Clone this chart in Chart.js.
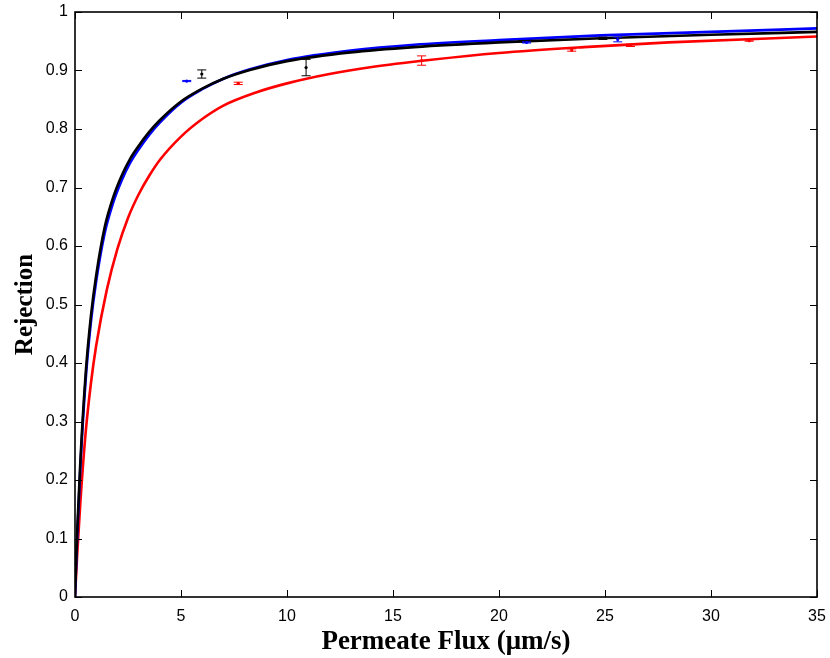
<!DOCTYPE html>
<html>
<head>
<meta charset="utf-8">
<script src="https://cdn.jsdelivr.net/npm/chart.js@4/dist/chart.umd.min.js"></script>
<style>
  html, body { margin: 0; padding: 0; background: #fff; }
  #wrap { width: 830px; height: 658px; }
</style>
</head>
<body>
<div id="wrap"><canvas id="c" width="830" height="658"></canvas></div>
<script>
// --- fitted curves ---
const blueFlux = [0, 0.1, 0.25, 0.5, 0.75, 1, 1.4, 1.8, 2.2, 2.6, 3, 3.5, 4, 5, 6, 7, 8.25, 10, 13, 16, 20, 24.8, 30, 35];
const blueRej  = [0, 0.10, 0.22, 0.37, 0.47, 0.54, 0.622, 0.674, 0.712, 0.742, 0.765, 0.79, 0.811, 0.845, 0.868, 0.886, 0.902, 0.918, 0.934, 0.944, 0.952, 0.96, 0.966, 0.972];

const blackFlux = [0, 0.1, 0.25, 0.5, 0.75, 1, 1.4, 1.8, 2.2, 2.6, 3, 3.5, 4, 5, 6, 7, 8.25, 10, 13, 16, 20, 24.8, 30, 35];
const blackRej  = [0, 0.11, 0.23, 0.38, 0.48, 0.55, 0.632, 0.683, 0.72, 0.749, 0.771, 0.795, 0.815, 0.847, 0.869, 0.886, 0.901, 0.916, 0.931, 0.94, 0.948, 0.955, 0.961, 0.966];

const redFlux = [0, 0.1, 0.25, 0.5, 0.75, 1, 1.5, 2, 2.5, 3, 3.5, 4, 5, 6, 7, 8.5, 10, 12, 14, 16.7, 20, 24, 28, 35];
const redRej  = [0, 0.07, 0.16, 0.28, 0.365, 0.43, 0.525, 0.595, 0.648, 0.688, 0.72, 0.747, 0.787, 0.817, 0.84, 0.862, 0.878, 0.894, 0.906, 0.918, 0.93, 0.94, 0.948, 0.958];

// --- measured points with error bars ---
const blueX = [5.27, 21.3, 25.6];
const blueY = [0.882, 0.948, 0.953];
const blueErr = [0.001, 0.001, 0.004];

const blackX = [5.98, 10.9, 21.1, 24.9];
const blackY = [0.894, 0.905, 0.950, 0.955];
const blackErr = [0.007, 0.014, 0.001, 0.002];

const redX = [7.7, 16.35, 23.43, 26.2, 31.8];
const redY = [0.878, 0.917, 0.935, 0.943, 0.951];
const redErr = [0.002, 0.008, 0.002, 0.002, 0.001];

const xTicks = [0, 5, 10, 15, 20, 25, 30, 35];
const yTicks = [0, 0.1, 0.2, 0.3, 0.4, 0.5, 0.6, 0.7, 0.8, 0.9, 1];

const BLUE = '#0000ff', BLACK = '#000000', RED = '#ff0000';

const zip = (xs, ys) => xs.map((x, i) => ({ x: x, y: ys[i] }));

function curve(label, xs, ys, color) {
    return { type: 'line', label, data: zip(xs, ys), borderColor: color, borderWidth: 2.6,
             pointRadius: 0, fill: false, cubicInterpolationMode: 'monotone' };
}
function points(label, xs, ys, errs, color) {
    return { type: 'scatter', label, data: zip(xs, ys), errs, barColor: color,
             backgroundColor: color, borderColor: color, pointRadius: 1.6, borderWidth: 0 };
}

// error bars, drawn with the chart's own scales
const errorBars = {
    id: 'errorBars',
    afterDatasetsDraw(chart) {
        const { ctx, scales: { x, y } } = chart;
        ctx.save();
        chart.data.datasets.forEach(ds => {
            if (!ds.errs) return;
            ctx.strokeStyle = ds.barColor;
            ctx.lineWidth = 1;
            ds.data.forEach((p, i) => {
                const px = x.getPixelForValue(p.x);
                const top = y.getPixelForValue(p.y + ds.errs[i]);
                const bot = y.getPixelForValue(p.y - ds.errs[i]);
                ctx.beginPath();
                ctx.moveTo(px, top); ctx.lineTo(px, bot);
                ctx.moveTo(px - 4.5, top); ctx.lineTo(px + 4.5, top);
                ctx.moveTo(px - 4.5, bot); ctx.lineTo(px + 4.5, bot);
                ctx.stroke();
            });
        });
        ctx.restore();
    }
};

// MATLAB-like box with inward ticks on all four sides
const boxAxes = {
    id: 'boxAxes',
    afterDraw(chart) {
        const { ctx, chartArea: a, scales: { x, y } } = chart;
        ctx.save();
        ctx.strokeStyle = '#000';
        ctx.lineWidth = 1;
        ctx.beginPath();
        xTicks.forEach(v => {
            const px = Math.round(x.getPixelForValue(v)) + 0.5;
            ctx.moveTo(px, a.bottom); ctx.lineTo(px, a.bottom - 7);
            ctx.moveTo(px, a.top); ctx.lineTo(px, a.top + 7);
        });
        yTicks.forEach(v => {
            const py = Math.round(y.getPixelForValue(v)) + 0.5;
            ctx.moveTo(a.left, py); ctx.lineTo(a.left + 7, py);
            ctx.moveTo(a.right, py); ctx.lineTo(a.right - 7, py);
        });
        ctx.stroke();
        ctx.lineWidth = 1.6;
        ctx.strokeRect(a.left, a.top, a.right - a.left, a.bottom - a.top);
        ctx.restore();
    }
};

// Chart.js paints the first dataset last, so black goes first to sit on top
new Chart(document.getElementById('c'), {
    data: {
        datasets: [
            points('black data', blackX, blackY, blackErr, BLACK),
            points('blue data', blueX, blueY, blueErr, BLUE),
            points('red data', redX, redY, redErr, RED),
            curve('black fit', blackFlux, blackRej, BLACK),
            curve('blue fit', blueFlux, blueRej, BLUE),
            curve('red fit', redFlux, redRej, RED)
        ]
    },
    options: {
        responsive: false,
        animation: false,
        layout: { padding: { top: 12, right: 13, left: 0, bottom: 0 } },
        plugins: { legend: { display: false }, tooltip: { enabled: false } },
        scales: {
            x: {
                type: 'linear', min: 0, max: 35,
                afterBuildTicks: s => { s.ticks = xTicks.map(v => ({ value: v })); },
                afterFit: s => { s.height = 61; s.paddingLeft = 0; s.paddingRight = 0; },
                grid: { display: false, drawTicks: false },
                border: { display: false },
                ticks: { color: '#000', padding: 10, maxRotation: 0,
                         font: { family: 'Liberation Sans, Arial', size: 16 } },
                title: { display: true, text: 'Permeate Flux (\u03bcm/s)', color: '#000', padding: { top: 6, bottom: 0 },
                         font: { family: 'Liberation Serif, Times New Roman', size: 27, weight: 'bold' } }
            },
            y: {
                type: 'linear', min: 0, max: 1,
                afterBuildTicks: s => { s.ticks = yTicks.map(v => ({ value: v })); },
                afterFit: s => { s.width = 75; s.paddingTop = 0; s.paddingBottom = 0; },
                grid: { display: false, drawTicks: false },
                border: { display: false },
                ticks: { color: '#000', padding: 7,
                         callback: v => String(Math.round(v * 10) / 10),
                         font: { family: 'Liberation Sans, Arial', size: 16 } },
                title: { display: true, text: 'Rejection', color: '#000', padding: { top: 11, bottom: 0 },
                         font: { family: 'Liberation Serif, Times New Roman', size: 25, weight: 'bold' } }
            }
        }
    },
    plugins: [errorBars, boxAxes]
});
</script>
</body>
</html>
